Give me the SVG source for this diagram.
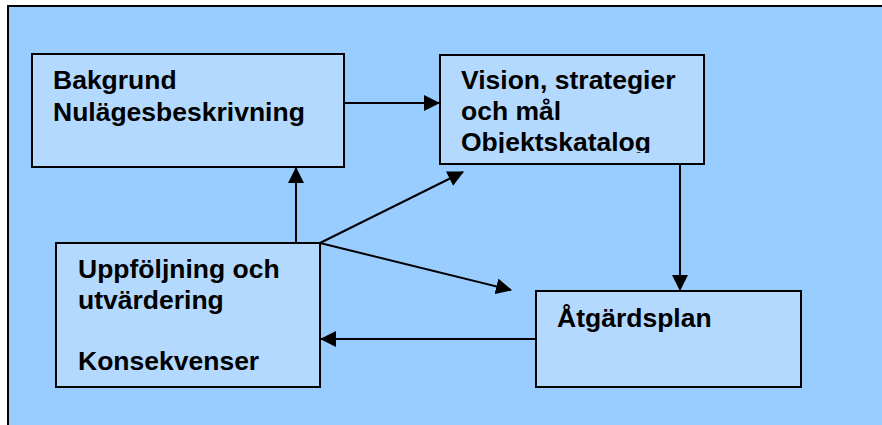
<svg xmlns="http://www.w3.org/2000/svg" width="882" height="425" viewBox="0 0 882 425">
<defs>
<style>
.box{fill:#b3d9ff;stroke:#000;stroke-width:2}
.t{font-family:"Liberation Sans",Arial,sans-serif;font-weight:bold;font-size:26.5px;fill:#000}
.c{stroke:#000;stroke-width:2;fill:none;marker-end:url(#ah)}
</style>
<marker id="ah" viewBox="0 0 16 16" refX="15" refY="8" markerWidth="16" markerHeight="16" markerUnits="userSpaceOnUse" orient="auto">
<path d="M0,0 L16,8 L0,16 Z" fill="#000"/>
</marker>
<clipPath id="clip2"><rect x="440" y="55" width="264" height="98"/></clipPath>
</defs>
<rect x="0" y="0" width="882" height="425" fill="#fff"/>
<rect x="8" y="6" width="890" height="440" fill="#99ccff" stroke="#000" stroke-width="2"/>
<g id="n1">
<rect class="box" x="32" y="54" width="312" height="113"/>
<text class="t" x="53" y="89">Bakgrund</text>
<text class="t" x="53" y="121">Nulägesbeskrivning</text>
</g>
<g id="n2">
<rect class="box" x="440" y="55" width="264" height="109"/>
<g clip-path="url(#clip2)">
<text class="t" x="461" y="89">Vision, strategier</text>
<text class="t" x="461" y="120">och mål</text>
<text class="t" x="461" y="151">Objektskatalog</text>
</g>
</g>
<g id="n3">
<rect class="box" x="56" y="243" width="264" height="144"/>
<text class="t" x="78" y="278">Uppföljning och</text>
<text class="t" x="78" y="309">utvärdering</text>
<text class="t" x="78" y="370">Konsekvenser</text>
</g>
<g id="n4">
<rect class="box" x="536" y="291" width="265" height="96"/>
<text class="t" x="557" y="327">Åtgärdsplan</text>
</g>
<g id="connectors">
<line class="c" x1="344" y1="103" x2="439" y2="103"/>
<line class="c" x1="680" y1="164" x2="680" y2="290"/>
<line class="c" x1="535" y1="339" x2="321" y2="339"/>
<line class="c" x1="296" y1="242" x2="296" y2="168"/>
<line class="c" x1="320" y1="243" x2="463" y2="172"/>
<line class="c" x1="320" y1="243" x2="511" y2="290"/>
</g>
</svg>
